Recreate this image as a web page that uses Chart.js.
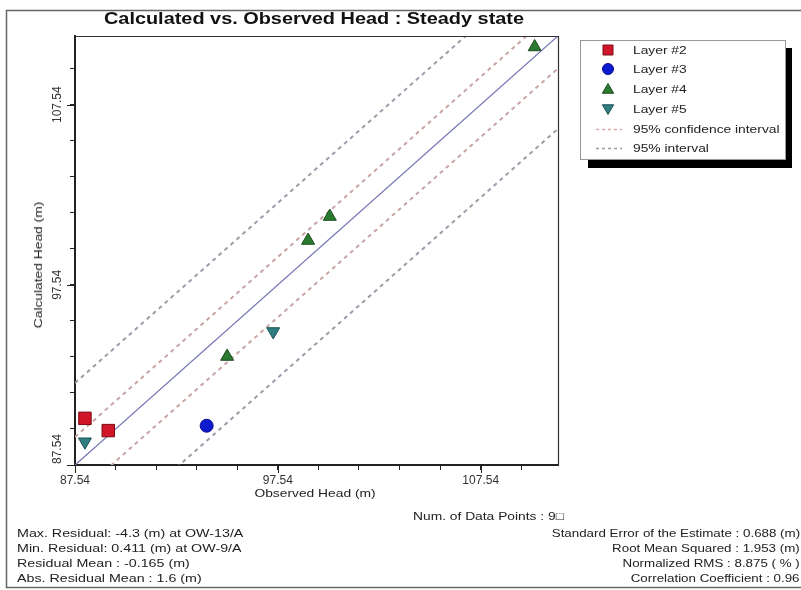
<!DOCTYPE html>
<html>
<head>
<meta charset="utf-8">
<title>Calculated vs. Observed Head</title>
<script src="https://cdn.jsdelivr.net/npm/chart.js@4.4.1/dist/chart.umd.min.js"></script>
<style>
  html, body { margin: 0; padding: 0; background: #fff; }
  #wrap {
    position: relative; width: 801px; height: 590px; overflow: hidden;
    font-family: "Liberation Sans", Arial, sans-serif; color: #222;
  }
  #chart { position: absolute; left: 0; top: 0; }
  .txt {
    position: absolute; white-space: nowrap; font-size: 11.5px; line-height: 14px;
    transform: scaleX(1.2); transform-origin: left center;
  }
  .right { transform: scaleX(1.16); transform-origin: right center; }
  .center { transform: translateX(-50%) scaleX(1.2); transform-origin: center center; }
  .title {
    font-size: 17px; font-weight: bold; line-height: 20px; color: #111;
    transform: translateX(-50%) scaleX(1.17); transform-origin: center center;
  }
  .vert { transform: translate(-50%, -50%) rotate(-90deg) scaleX(1.2); transform-origin: center center; }
</style>
</head>
<body>
<div id="wrap">
  <canvas id="chart" width="801" height="590"></canvas>

  <div class="txt title" style="left:314px; top:9px;">Calculated vs. Observed Head : Steady state</div>

  <div class="txt center" style="left:315px; top:486px;">Observed Head (m)</div>
  <div class="txt vert" style="left:38px; top:265px;">Calculated Head (m)</div>

  <!-- legend labels -->
  <div class="txt" style="left:633px; top:43px;">Layer #2</div>
  <div class="txt" style="left:633px; top:62px;">Layer #3</div>
  <div class="txt" style="left:633px; top:82px;">Layer #4</div>
  <div class="txt" style="left:633px; top:102px;">Layer #5</div>
  <div class="txt" style="left:633px; top:122px;">95% confidence interval</div>
  <div class="txt" style="left:633px; top:141px;">95% interval</div>

  <!-- statistics -->
  <div class="txt" style="left:413px; top:509px;">Num. of Data Points : 9&#9633;</div>

  <div class="txt" style="left:17px; top:526px; transform:scaleX(1.24);">Max. Residual: -4.3 (m) at OW-13/A</div>
  <div class="txt" style="left:17px; top:541px; transform:scaleX(1.24);">Min. Residual: 0.411 (m) at OW-9/A</div>
  <div class="txt" style="left:17px; top:556px; transform:scaleX(1.24);">Residual Mean : -0.165 (m)</div>
  <div class="txt" style="left:17px; top:571px; transform:scaleX(1.24);">Abs. Residual Mean : 1.6 (m)</div>

  <div class="txt right" style="right:1px; top:526px;">Standard Error of the Estimate : 0.688 (m)</div>
  <div class="txt right" style="right:1px; top:541px;">Root Mean Squared : 1.953 (m)</div>
  <div class="txt right" style="right:1px; top:556px;">Normalized RMS : 8.875 ( % )</div>
  <div class="txt right" style="right:1px; top:571px;">Correlation Coefficient : 0.96</div>
</div>

<script>
// ---------- data ----------
const axisMin = 87.54;
const axisMax = 111.35;
const tickValues = [87.54, 89.54, 91.54, 93.54, 95.54, 97.54, 99.54, 101.54, 103.54, 105.54, 107.54, 109.54];
const labelValues = [87.54, 97.54, 107.54];

// observed (x) / calculated (y) per layer
const layer2Obs = [88.03, 89.18];
const layer2Calc = [90.13, 89.45];
const layer3Obs = [94.03];
const layer3Calc = [89.72];
const layer4Obs = [95.04, 99.03, 100.10, 110.20];
const layer4Calc = [93.56, 100.00, 101.33, 110.74];
const layer5Obs = [88.03, 97.31];
const layer5Calc = [88.83, 94.95];

// reference lines (end points)
const lineObs = [87.54, 111.35];
const perfectCalc = [87.54, 111.35];
const confUpperCalc = [89.09, 112.90];
const confLowerCalc = [85.74, 109.55];
const intUpperCalc = [92.09, 115.90];
const intLowerCalc = [82.39, 106.20];

const toPoints = (xs, ys) => xs.map((x, i) => ({ x: x, y: ys[i] }));

const confColor = "#c9a4a4";
const intColor = "#9c9caa";

/* ================= LEGEND + FRAME PLUGIN ================= */
function drawMarker(ctx, style, x, y, r, fill, stroke) {
  ctx.save();
  ctx.fillStyle = fill;
  ctx.strokeStyle = stroke;
  ctx.lineWidth = 1;
  ctx.beginPath();
  if (style === "rect") {
    ctx.rect(x - r, y - r, 2 * r, 2 * r);
  } else if (style === "circle") {
    ctx.arc(x, y, r, 0, Math.PI * 2);
  } else if (style === "up") {
    ctx.moveTo(x, y - r);
    ctx.lineTo(x + r * 0.87, y + r * 0.5);
    ctx.lineTo(x - r * 0.87, y + r * 0.5);
    ctx.closePath();
  } else {
    ctx.moveTo(x, y + r);
    ctx.lineTo(x + r * 0.87, y - r * 0.5);
    ctx.lineTo(x - r * 0.87, y - r * 0.5);
    ctx.closePath();
  }
  ctx.fill();
  ctx.stroke();
  ctx.restore();
}

const decorPlugin = {
  id: "decor",
  beforeDraw(chart) {
    const ctx = chart.ctx;
    ctx.save();
    ctx.fillStyle = "#fff";
    ctx.fillRect(0, 0, chart.width, chart.height);
    // outer frame
    ctx.strokeStyle = "#666";
    ctx.lineWidth = 1.5;
    ctx.strokeRect(6.5, 10.5, 820, 577);
    ctx.restore();
  },
  afterDraw(chart) {
    const ctx = chart.ctx;
    const a = chart.chartArea;
    const xs = chart.scales.x;
    const ys = chart.scales.y;
    ctx.save();

    // top / right frame of plot
    ctx.strokeStyle = "#333";
    ctx.lineWidth = 1.2;
    ctx.beginPath();
    ctx.moveTo(a.left, a.top + 0.5);
    ctx.lineTo(a.right + 0.5, a.top + 0.5);
    ctx.lineTo(a.right + 0.5, a.bottom);
    ctx.stroke();

    // longer ticks on labelled values
    ctx.strokeStyle = "#222";
    ctx.lineWidth = 1;
    labelValues.forEach((v) => {
      const px = Math.round(xs.getPixelForValue(v)) + 0.5;
      const py = Math.round(ys.getPixelForValue(v)) + 0.5;
      ctx.beginPath();
      ctx.moveTo(px, a.bottom);
      ctx.lineTo(px, a.bottom + 8);
      ctx.moveTo(a.left, py);
      ctx.lineTo(a.left - 8, py);
      ctx.stroke();
    });

    // rotated y tick labels
    ctx.fillStyle = "#333";
    ctx.font = "12px 'Liberation Sans', Arial, sans-serif";
    ctx.textAlign = "center";
    ctx.textBaseline = "middle";
    labelValues.forEach((v) => {
      const txt = v.toFixed(2);
      const w = ctx.measureText(txt).width;
      let py = ys.getPixelForValue(v);
      py = Math.min(py, a.bottom - w / 2 - 1);
      ctx.save();
      ctx.translate(a.left - 17, py);
      ctx.rotate(-Math.PI / 2);
      ctx.fillText(txt, 0, 0);
      ctx.restore();
    });

    // legend box with shadow
    ctx.fillStyle = "#000";
    ctx.fillRect(588, 48, 204, 120);
    ctx.fillStyle = "#fff";
    ctx.fillRect(580, 40, 205, 119);
    ctx.strokeStyle = "#999";
    ctx.lineWidth = 1;
    ctx.strokeRect(580.5, 40.5, 205, 119);

    drawMarker(ctx, "rect", 608, 50, 5, "#d01628", "#7a0a10");
    drawMarker(ctx, "circle", 608, 69, 5.5, "#0c1ccc", "#0a0a90");
    drawMarker(ctx, "up", 608, 90, 6.5, "#2b7a30", "#1a4d1e");
    drawMarker(ctx, "down", 608, 108, 6.5, "#2e7d80", "#1d5456");

    ctx.lineWidth = 1.5;
    ctx.setLineDash([3, 3]);
    ctx.strokeStyle = "#e0a8a8";
    ctx.beginPath();
    ctx.moveTo(596, 129.5);
    ctx.lineTo(622, 129.5);
    ctx.stroke();
    ctx.strokeStyle = intColor;
    ctx.beginPath();
    ctx.moveTo(596, 148.5);
    ctx.lineTo(622, 148.5);
    ctx.stroke();
    ctx.restore();
  },
};

/* ================= CHART ================= */
new Chart(document.getElementById("chart"), {
  type: "scatter",
  data: {
    datasets: [
      {
        label: "Layer #2",
        data: toPoints(layer2Obs, layer2Calc),
        pointStyle: "rect",
        pointRadius: 8.8,
        backgroundColor: "#d01628",
        borderColor: "#7a0a10",
        borderWidth: 1,
        clip: false,
      },
      {
        label: "Layer #3",
        data: toPoints(layer3Obs, layer3Calc),
        pointStyle: "circle",
        pointRadius: 6.5,
        backgroundColor: "#0c1ccc",
        borderColor: "#0a0a90",
        borderWidth: 1,
        clip: false,
      },
      {
        label: "Layer #4",
        data: toPoints(layer4Obs, layer4Calc),
        pointStyle: "triangle",
        pointRadius: 7.5,
        backgroundColor: "#2b7a30",
        borderColor: "#1a4d1e",
        borderWidth: 1,
        clip: false,
      },
      {
        label: "Layer #5",
        data: toPoints(layer5Obs, layer5Calc),
        pointStyle: "triangle",
        rotation: 180,
        pointRadius: 7.5,
        backgroundColor: "#2e7d80",
        borderColor: "#1d5456",
        borderWidth: 1,
        clip: false,
      },
      {
        label: "1:1",
        data: toPoints(lineObs, perfectCalc),
        showLine: true,
        pointRadius: 0,
        borderColor: "#7474b4",
        borderWidth: 1.3,
      },
      {
        label: "95% confidence interval",
        data: toPoints(lineObs, confUpperCalc),
        showLine: true,
        pointRadius: 0,
        borderColor: confColor,
        borderWidth: 2,
        borderDash: [4, 4],
      },
      {
        label: "95% confidence interval low",
        data: toPoints(lineObs, confLowerCalc),
        showLine: true,
        pointRadius: 0,
        borderColor: confColor,
        borderWidth: 2,
        borderDash: [4, 4],
      },
      {
        label: "95% interval",
        data: toPoints(lineObs, intUpperCalc),
        showLine: true,
        pointRadius: 0,
        borderColor: intColor,
        borderWidth: 2,
        borderDash: [4, 4],
      },
      {
        label: "95% interval low",
        data: toPoints(lineObs, intLowerCalc),
        showLine: true,
        pointRadius: 0,
        borderColor: intColor,
        borderWidth: 2,
        borderDash: [4, 4],
      },
    ],
  },
  options: {
    responsive: false,
    animation: false,
    layout: { padding: { left: 0, top: 36, right: 243, bottom: 0 } },
    plugins: {
      legend: { display: false },
      tooltip: { enabled: false },
      title: { display: false },
    },
    scales: {
      x: {
        type: "linear",
        min: axisMin,
        max: axisMax,
        afterBuildTicks: (scale) => {
          scale.ticks = tickValues.map((v) => ({ value: v }));
        },
        afterFit: (scale) => {
          scale.height = 125;
        },
        ticks: {
          autoSkip: false,
          maxRotation: 0,
          padding: 3,
          color: "#333",
          font: { family: "'Liberation Sans', Arial, sans-serif", size: 12 },
          callback: (v) => (labelValues.includes(v) ? v.toFixed(2) : ""),
        },
        grid: { drawOnChartArea: false, tickLength: 5, color: "#222", lineWidth: 1 },
        border: { display: true, color: "#222", width: 2 },
      },
      y: {
        type: "linear",
        min: axisMin,
        max: axisMax,
        afterBuildTicks: (scale) => {
          scale.ticks = tickValues.map((v) => ({ value: v }));
        },
        afterFit: (scale) => {
          scale.width = 75;
        },
        ticks: { display: false },
        grid: { drawOnChartArea: false, tickLength: 5, color: "#222", lineWidth: 1 },
        border: { display: true, color: "#222", width: 2 },
      },
    },
  },
  plugins: [decorPlugin],
});
</script>
</body>
</html>
